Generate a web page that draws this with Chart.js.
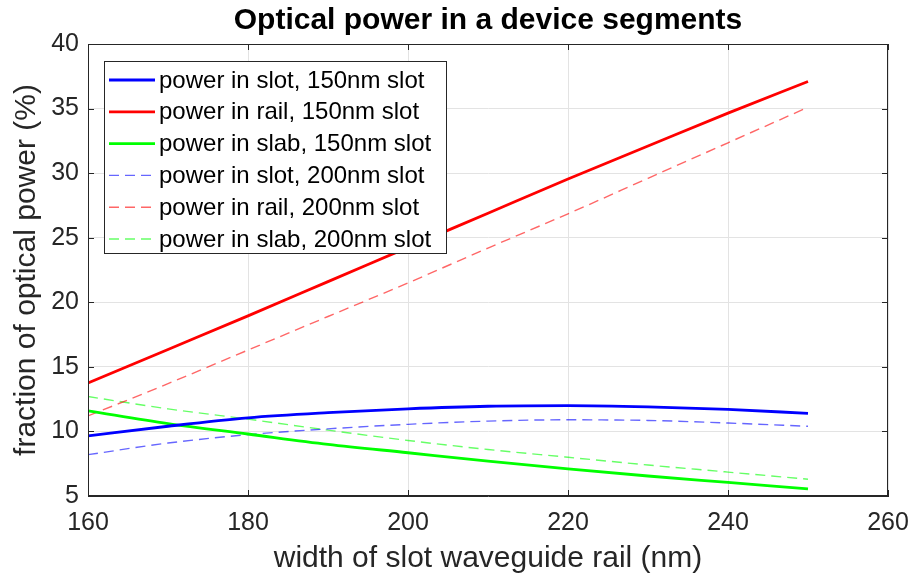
<!DOCTYPE html>
<html>
<head>
<meta charset="utf-8">
<script src="https://cdn.jsdelivr.net/npm/chart.js@4"></script>
<style>
  body { margin: 0; background: #ffffff; }
  #wrap { width: 914px; height: 580px; }
</style>
</head>
<body>
<div id="wrap"><canvas id="myChart" width="914" height="580"></canvas></div>
<script>
const railWidths = [160, 170, 180, 190, 200, 210, 220, 230, 240, 250];

const slot150 = [9.65, 10.4, 11.05, 11.45, 11.75, 11.95, 12.0, 11.9, 11.7, 11.4];
const rail150 = [13.75, 16.35, 18.95, 21.6, 24.25, 26.9, 29.55, 32.1, 34.65, 37.1];
const slab150 = [11.6, 10.6, 9.8, 9.0, 8.35, 7.7, 7.1, 6.55, 6.05, 5.55];
const slot200 = [8.2, 9.1, 9.75, 10.2, 10.55, 10.8, 10.9, 10.85, 10.65, 10.4];
const rail200 = [11.2, 13.7, 16.3, 18.9, 21.5, 24.2, 26.85, 29.6, 32.35, 35.1];
const slab200 = [12.7, 11.75, 10.95, 10.1, 9.3, 8.6, 8.0, 7.4, 6.85, 6.3];

const seriesLabels = [
    'power in slot, 150nm slot',
    'power in rail, 150nm slot',
    'power in slab, 150nm slot',
    'power in slot, 200nm slot',
    'power in rail, 200nm slot',
    'power in slab, 200nm slot'
];

const xTicks = [160, 180, 200, 220, 240, 260];
const yTicks = [5, 10, 15, 20, 25, 30, 35, 40];

const chartTitle = 'Optical power in a device segments';
const xTitle = 'width of slot waveguide rail (nm)';
const yTitle = 'fraction of optical power (%)';

const FONT = '"Liberation Sans", Arial, Helvetica, sans-serif';
const INK = '#262626';

function makeSeries(values, label, color, dashed) {
    return {
        label: label,
        data: railWidths.map((x, i) => ({ x: x, y: values[i] })),
        borderColor: color,
        borderWidth: dashed ? 1.4 : 2.8,
        borderDash: dashed ? [10, 6] : [],
        pointRadius: 0,
        fill: false,
        cubicInterpolationMode: 'monotone'
    };
}

const frameAndLegend = {
    id: 'frameAndLegend',
    afterDatasetsDraw(chart) {
        const ctx = chart.ctx;
        const area = chart.chartArea;
        const xs = chart.scales.x;
        const ys = chart.scales.y;
        ctx.save();
        // box round the axes
        ctx.strokeStyle = INK;
        ctx.lineWidth = 1;
        ctx.strokeRect(area.left + 0.5, area.top + 0.5, area.right - area.left - 1, area.bottom - area.top - 1);
        // inward ticks
        ctx.beginPath();
        xTicks.forEach(v => {
            const px = Math.round(xs.getPixelForValue(v)) + 0.5;
            ctx.moveTo(px, area.bottom); ctx.lineTo(px, area.bottom - 6);
            ctx.moveTo(px, area.top); ctx.lineTo(px, area.top + 6);
        });
        yTicks.forEach(v => {
            const py = Math.round(ys.getPixelForValue(v)) + 0.5;
            ctx.moveTo(area.left, py); ctx.lineTo(area.left + 6, py);
            ctx.moveTo(area.right, py); ctx.lineTo(area.right - 6, py);
        });
        ctx.stroke();

        // title centred over the axes
        ctx.fillStyle = '#000000';
        ctx.font = 'bold 30px ' + FONT;
        ctx.textAlign = 'center';
        ctx.textBaseline = 'middle';
        ctx.fillText(chartTitle, (area.left + area.right) / 2, 21);

        // legend inside the axes, top left
        const bx = 104, by = 61, bw = 342, bh = 192, row = 31.8;
        ctx.fillStyle = '#ffffff';
        ctx.fillRect(bx, by, bw, bh);
        ctx.strokeStyle = INK;
        ctx.lineWidth = 1;
        ctx.strokeRect(bx + 0.5, by + 0.5, bw, bh);
        ctx.font = '24px ' + FONT;
        ctx.textAlign = 'left';
        chart.data.datasets.forEach((ds, i) => {
            const cy = by + 19 + i * row;
            ctx.strokeStyle = ds.borderColor;
            ctx.lineWidth = ds.borderWidth;
            ctx.setLineDash(ds.borderDash);
            ctx.beginPath();
            ctx.moveTo(bx + 5, cy);
            ctx.lineTo(bx + 51, cy);
            ctx.stroke();
            ctx.setLineDash([]);
            ctx.fillStyle = '#000000';
            ctx.fillText(ds.label, bx + 55, cy + 1);
        });
        ctx.restore();
    }
};

function renderChart() {
    const ctx = document.getElementById('myChart').getContext('2d');
    new Chart(ctx, {
        type: 'line',
        data: {
            datasets: [
                makeSeries(slot150, seriesLabels[0], '#0000ff', false),
                makeSeries(rail150, seriesLabels[1], '#ff0000', false),
                makeSeries(slab150, seriesLabels[2], '#00ff00', false),
                makeSeries(slot200, seriesLabels[3], 'rgba(0, 0, 255, 0.6)', true),
                makeSeries(rail200, seriesLabels[4], 'rgba(255, 0, 0, 0.6)', true),
                makeSeries(slab200, seriesLabels[5], 'rgba(0, 255, 0, 0.6)', true)
            ]
        },
        options: {
            responsive: false,
            animation: false,
            layout: { padding: { top: 44, right: 26, left: 0, bottom: 0 } },
            plugins: {
                legend: { display: false },
                tooltip: { enabled: false },
                title: { display: false }
            },
            scales: {
                x: {
                    type: 'linear',
                    min: 160,
                    max: 260,
                    afterFit: s => { s.height = 84; s.paddingRight = 0; },
                    afterBuildTicks: s => { s.ticks = xTicks.map(v => ({ value: v })); },
                    grid: { color: '#e3e3e3', drawTicks: false },
                    border: { color: INK },
                    ticks: { color: INK, padding: 12, font: { family: FONT, size: 25 } },
                    title: {
                        display: true,
                        text: xTitle,
                        color: INK,
                        padding: { top: 0, bottom: 3 },
                        font: { family: FONT, size: 30 }
                    }
                },
                y: {
                    min: 5,
                    max: 40,
                    afterFit: s => { s.width = 88; },
                    afterBuildTicks: s => { s.ticks = yTicks.map(v => ({ value: v })); },
                    grid: { color: '#e3e3e3', drawTicks: false },
                    border: { color: INK },
                    ticks: { color: INK, padding: 9, font: { family: FONT, size: 25 } },
                    title: {
                        display: true,
                        text: yTitle,
                        color: INK,
                        padding: { top: 9, bottom: 0 },
                        font: { family: FONT, size: 30 }
                    }
                }
            }
        },
        plugins: [frameAndLegend]
    });
}

document.addEventListener('DOMContentLoaded', renderChart);
</script>
</body>
</html>
